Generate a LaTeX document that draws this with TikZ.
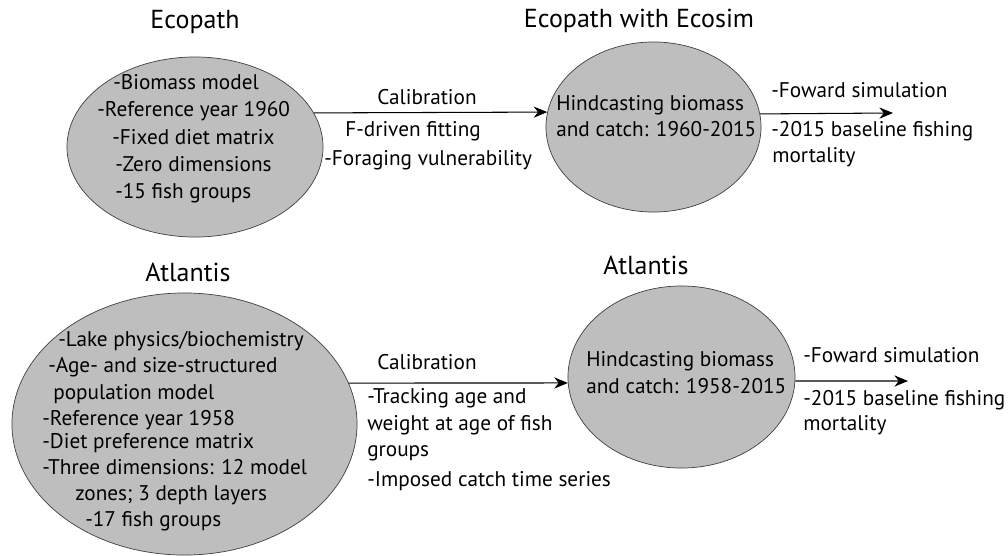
\documentclass[tikz,border=0pt]{standalone}
\usepackage{fontspec}
\setmainfont{PT Sans}
\usepackage{xcolor}
\usetikzlibrary{shapes.geometric,arrows.meta}
\definecolor{ovalgray}{RGB}{190,190,190}

\begin{document}
\begin{tikzpicture}[x=0.025cm,y=-0.025cm,>={Stealth[length=3.4mm,width=2.8mm]},
  font=\fontsize{15.1}{18}\selectfont,
  blob/.style={ellipse,draw=black!75,fill=ovalgray,line width=0.5pt,inner sep=0pt},
  ttl/.style={font=\fontsize{18.5}{22}\selectfont},
  txt/.style={anchor=west,inner sep=0pt,text height=0.7em,text depth=0.2em},
  flow/.style={->,line width=0.75pt}]
\useasboundingbox (0,0) rectangle (1008,555);
% upper row: Ecopath -> Ecopath with Ecosim
\node[ttl] (tEP) at (195,22) {Ecopath};
\node[ttl] (tEwE) at (639,21) {Ecopath with Ecosim};
\node[blob,minimum width=6.4cm,minimum height=4.5cm] (ep) at (195,147) {};
\node[blob,minimum width=5.375cm,minimum height=4.25cm] (ewe) at (653.5,127) {};
\node[txt] (ep1) at (113,86) {-Biomass model};
\node[txt] (ep2) at (97,113) {-Reference year 1960};
\node[txt] (ep3) at (112,141) {-Fixed diet matrix};
\node[txt] (ep4) at (115,168) {-Zero dimensions};
\node[txt] (ep5) at (115,195) {-15 fish groups};
\node[txt] (ewe1) at (556,107) {Hindcasting biomass};
\node[txt] (ewe2) at (556,133) {and catch: 1960-2015};
\draw[flow] (ep.16.5) -- (ewe.172);
\node (cal1) at (427,97) {Calibration};
\node[txt] (fit1) at (345,133) {F-driven fitting};
\node[txt] (fit2) at (324,162) {-Foraging vulnerability};
\coordinate (eweOut) at (893,113);
\draw[flow] (ewe.7.5) -- (eweOut);
\node[txt] (fw1) at (771,94) {-Foward simulation};
\node[txt] (fw2) at (771,133) {-2015 baseline fishing};
\node[txt] (fw3) at (772,159) {mortality};
% lower row: Atlantis -> Atlantis
\node[ttl] (tAt) at (188,272) {Atlantis};
\node[ttl] (tAtr) at (646,265) {Atlantis};
\node[blob,minimum width=8.625cm,minimum height=6.55cm] (at) at (184.5,424) {};
\node[blob,minimum width=5.675cm,minimum height=4.55cm] (atr) at (681.5,377) {};
\node[txt] (at1) at (58,343) {-Lake physics/biochemistry};
\node[txt] (at2) at (48,369) {-Age- and size-structured};
\node[txt] (at3) at (53,396) {population model};
\node[txt] (at4) at (42,422) {-Reference year 1958};
\node[txt] (at5) at (42,445) {-Diet preference matrix};
\node[txt] (at6) at (42,471) {-Three dimensions: 12 model};
\node[txt] (at7) at (75,497) {zones; 3 depth layers};
\node[txt] (at8) at (85,523) {-17 fish groups};
\node[txt] (atr1) at (586,363) {Hindcasting biomass};
\node[txt] (atr2) at (586,390) {and catch: 1958-2015};
\draw[flow] (at.14) -- (atr.183.5);
\node (cal2) at (427,362) {Calibration};
\node[txt] (trk1) at (367,400) {-Tracking age and};
\node[txt] (trk2) at (367,427) {weight at age of fish};
\node[txt] (trk3) at (367,453) {groups};
\node[txt] (trk4) at (367,483) {-Imposed catch time series};
\coordinate (atrOut) at (908,381);
\draw[flow] (atr.-2) -- (atrOut);
\node[txt] (fb1) at (803,359) {-Foward simulation};
\node[txt] (fb2) at (803,402) {-2015 baseline fishing};
\node[txt] (fb3) at (803,427) {mortality};
\end{tikzpicture}
\end{document}
